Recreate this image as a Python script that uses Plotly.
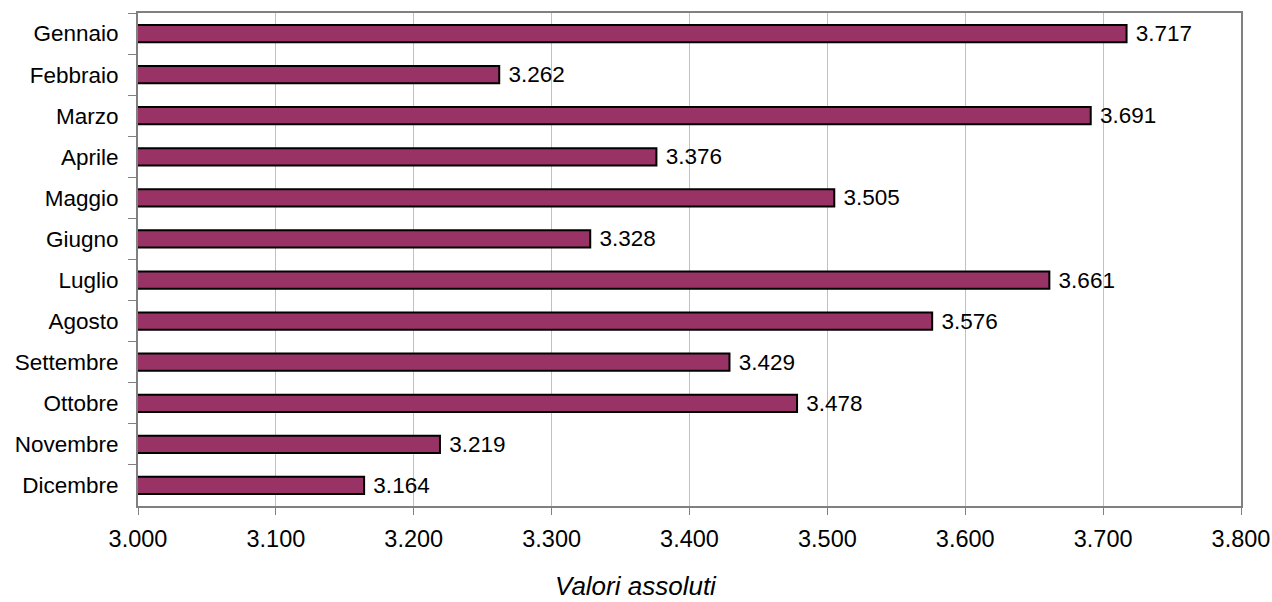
import plotly.graph_objects as go

months = ["Gennaio", "Febbraio", "Marzo", "Aprile", "Maggio", "Giugno",
          "Luglio", "Agosto", "Settembre", "Ottobre", "Novembre", "Dicembre"]
values = [3717, 3262, 3691, 3376, 3505, 3328, 3661, 3576, 3429, 3478, 3219, 3164]
x_ticks = [3000, 3100, 3200, 3300, 3400, 3500, 3600, 3700, 3800]
x_title = "Valori assoluti"

FONT = "Liberation Sans, Arial, sans-serif"
FS = 22.5

W, H = 1272, 602
ML, MR, MT, MB = 138, 31, 13, 96
PW, PH = W - ML - MR, H - MT - MB

fig = go.Figure(go.Bar(
    y=months, x=values, orientation="h",
    marker=dict(color="#993366", line=dict(color="#000000", width=2)),
    texttemplate=" %{x:,d}", textposition="outside",
    textfont=dict(family=FONT, size=FS, color="#000000"),
    constraintext="none",
    cliponaxis=False,
))

fig.update_layout(
    width=W, height=H,
    margin=dict(l=ML, r=MR, t=MT, b=MB, autoexpand=False),
    paper_bgcolor="white", plot_bgcolor="white",
    separators=",.",
    bargap=0.58,
    showlegend=False,
    font=dict(family=FONT, size=FS, color="#000000"),
)

# axis title centred on the whole figure, as in the reference
fig.add_annotation(
    text="<i>" + x_title + "</i>", xref="paper", yref="paper",
    x=(W / 2 - ML) / PW, y=-(586 - (MT + PH)) / PH,
    xanchor="center", yanchor="middle", showarrow=False,
    font=dict(family=FONT, size=26, color="#000000"),
)

fig.update_xaxes(
    range=[3000, 3800], tickvals=x_ticks, tickformat=",d",
    tickfont=dict(size=23.5),
    showgrid=True, gridcolor="#c0c0c0", gridwidth=1,
    showline=True, linecolor="#808080", linewidth=2, mirror=True,
    ticks="outside", ticklen=7, tickcolor="#808080", tickwidth=1,
    ticklabelstandoff=4,
    zeroline=False, automargin=False,
)
fig.update_yaxes(
    autorange="reversed", categoryorder="array", categoryarray=months,
    showgrid=False,
    showline=True, linecolor="#808080", linewidth=2, mirror=True,
    ticks="outside", ticklen=8, tickcolor="#808080", tickwidth=1,
    tickson="boundaries", ticklabelstandoff=13, automargin=False,
)

fig.write_html(
    "out.html",
    config={"displayModeBar": False},
    post_script="document.body.style.margin='0';document.body.style.overflow='hidden';",
)
